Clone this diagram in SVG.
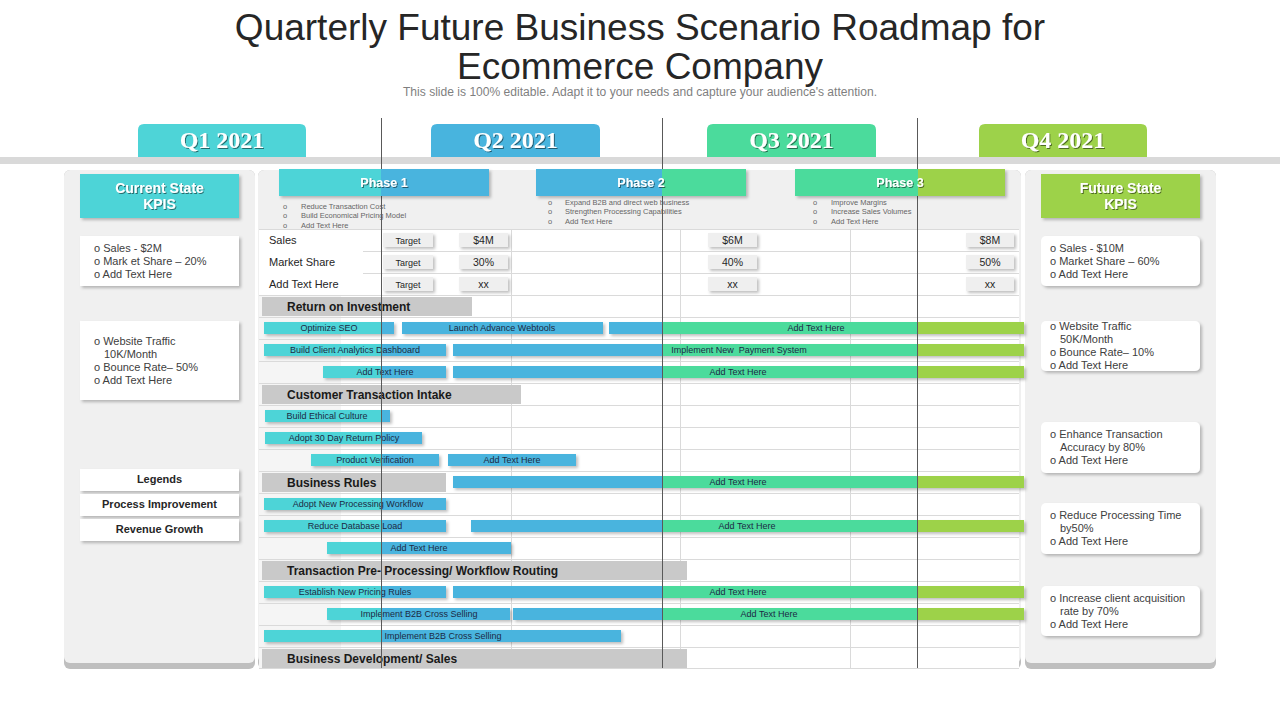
<svg xmlns="http://www.w3.org/2000/svg" width="1280" height="720" viewBox="0 0 1280 720">
<defs>
<style>
.s{font-family:"Liberation Sans",Arial,sans-serif}
.ttl{font-family:"Liberation Sans",Arial,sans-serif;font-size:37px;fill:#262626;text-anchor:middle}
.sub{font-family:"Liberation Sans",Arial,sans-serif;font-size:12px;fill:#7F7F7F;text-anchor:middle}
.q{font-family:"Liberation Serif","Times New Roman",serif;font-size:24px;font-weight:bold;fill:#fff;text-anchor:middle}
.ph{font-family:"Liberation Sans",Arial,sans-serif;font-size:12.5px;font-weight:bold;fill:#fff;text-anchor:middle}
.kh{font-family:"Liberation Sans",Arial,sans-serif;font-size:14px;font-weight:bold;fill:#fff;text-anchor:middle}
.pb{font-family:"Liberation Sans",Arial,sans-serif;font-size:7.5px;fill:#666}
.kp{font-family:"Liberation Sans",Arial,sans-serif;font-size:11px;fill:#404040}
.lg{font-family:"Liberation Sans",Arial,sans-serif;font-size:11px;font-weight:bold;fill:#262626;text-anchor:middle}
.rl{font-family:"Liberation Sans",Arial,sans-serif;font-size:11px;fill:#262626}
.tgt{font-family:"Liberation Sans",Arial,sans-serif;font-size:9px;fill:#262626;text-anchor:middle}
.val{font-family:"Liberation Sans",Arial,sans-serif;font-size:10.5px;fill:#262626;text-anchor:middle}
.bt{font-family:"Liberation Sans",Arial,sans-serif;font-size:9px;fill:#1C2A44;text-anchor:middle}
.hd{font-family:"Liberation Sans",Arial,sans-serif;font-size:12px;font-weight:bold;fill:#1A1A1A}
.tc{fill:#4ED4D7}
.bl{fill:#48B4DE}
.gr{fill:#4BDB9C}
.lm{fill:#9DD24A}
.hdr{fill:#C9C9C9}
.box{fill:#fff}
.tg{fill:#EFEFEF}
.grid{stroke:#DADADA;stroke-width:1}
.ql{stroke:#595959;stroke-width:1}
.pnl{fill:#F0F0F0}
.pnb{fill:#BFBFBF}
</style>
<filter id="sh" x="-10%" y="-30%" width="125%" height="180%"><feDropShadow dx="2" dy="2" stdDeviation="1.5" flood-color="#000" flood-opacity="0.25"/></filter>
<filter id="ts" x="-10%" y="-30%" width="130%" height="170%"><feDropShadow dx="1" dy="1" stdDeviation="0.6" flood-color="#000" flood-opacity="0.5"/></filter>
</defs>
<rect width="1280" height="720" fill="#fff"/>

<g id="title">
<text class="ttl" x="640" y="40">Quarterly Future Business Scenario Roadmap for</text>
<text class="ttl" x="640" y="79">Ecommerce Company</text>
<text class="sub" x="640" y="96" textLength="474" lengthAdjust="spacingAndGlyphs">This slide is 100% editable. Adapt it to your needs and capture your audience's attention.</text>
</g>

<rect x="0" y="157" width="1280" height="7" fill="#D9D9D9"/>

<g id="q1"><path class="tc" d="M138,157V130Q138,124 144,124H300Q306,124 306,130V157Z"/><text class="q" x="222" y="148" filter="url(#ts)">Q1 2021</text></g>
<g id="q2"><path class="bl" d="M431,157V130Q431,124 437,124H594Q600,124 600,130V157Z"/><text class="q" x="515.5" y="148" filter="url(#ts)">Q2 2021</text></g>
<g id="q3"><path class="gr" d="M707,157V130Q707,124 713,124H870Q876,124 876,130V157Z"/><text class="q" x="791.5" y="148" filter="url(#ts)">Q3 2021</text></g>
<g id="q4"><path class="lm" d="M979,157V130Q979,124 985,124H1141Q1147,124 1147,130V157Z"/><text class="q" x="1063" y="148" filter="url(#ts)">Q4 2021</text></g>

<g id="panels">
<rect class="pnb" x="64" y="170" width="191" height="499" rx="6"/>
<rect class="pnl" x="64" y="170" width="191" height="493" rx="6"/>
<rect class="pnb" x="258" y="170" width="763" height="499" rx="6"/>
<rect class="pnl" x="258" y="170" width="763" height="493" rx="6"/>
<rect class="pnb" x="1025" y="170" width="191" height="499" rx="6"/>
<rect class="pnl" x="1025" y="170" width="191" height="493" rx="6"/>
</g>

<g id="table">
<rect x="259" y="229" width="760" height="439" fill="#fff"/>
<rect x="259" y="295" width="82" height="373" fill="#F5F5F5"/>
<g class="grid">
<line x1="259" y1="229.5" x2="1019" y2="229.5"/>
<line x1="363" y1="251.5" x2="1019" y2="251.5"/>
<line x1="363" y1="273.5" x2="1019" y2="273.5"/>
<line x1="259" y1="295.5" x2="1019" y2="295.5"/>
<line x1="259" y1="317.5" x2="1019" y2="317.5"/>
<line x1="259" y1="339.5" x2="1019" y2="339.5"/>
<line x1="259" y1="361.5" x2="1019" y2="361.5"/>
<line x1="259" y1="383.5" x2="1019" y2="383.5"/>
<line x1="259" y1="405.5" x2="1019" y2="405.5"/>
<line x1="259" y1="427.5" x2="1019" y2="427.5"/>
<line x1="259" y1="449.5" x2="1019" y2="449.5"/>
<line x1="259" y1="471.5" x2="1019" y2="471.5"/>
<line x1="259" y1="493.5" x2="1019" y2="493.5"/>
<line x1="259" y1="515.5" x2="1019" y2="515.5"/>
<line x1="259" y1="537.5" x2="1019" y2="537.5"/>
<line x1="259" y1="559.5" x2="1019" y2="559.5"/>
<line x1="259" y1="581.5" x2="1019" y2="581.5"/>
<line x1="259" y1="603.5" x2="1019" y2="603.5"/>
<line x1="259" y1="625.5" x2="1019" y2="625.5"/>
<line x1="259" y1="647.5" x2="1019" y2="647.5"/>
<line x1="259" y1="668.5" x2="1019" y2="668.5"/>
<line x1="511.5" y1="229" x2="511.5" y2="668"/>
<line x1="680.5" y1="229" x2="680.5" y2="668"/>
<line x1="850.5" y1="229" x2="850.5" y2="668"/>
</g>
<text class="rl" x="269" y="244">Sales</text>
<text class="rl" x="269" y="266">Market Share</text>
<text class="rl" x="269" y="288">Add Text Here</text>
<g filter="url(#sh)">
<rect class="tg" x="383" y="233" width="50" height="14"/>
<rect class="tg" x="383" y="255" width="50" height="14"/>
<rect class="tg" x="383" y="277" width="50" height="14"/>
<rect class="tg" x="459" y="233" width="49" height="14"/>
<rect class="tg" x="459" y="255" width="49" height="14"/>
<rect class="tg" x="459" y="277" width="49" height="14"/>
<rect class="tg" x="708" y="233" width="49" height="14"/>
<rect class="tg" x="708" y="255" width="49" height="14"/>
<rect class="tg" x="708" y="277" width="49" height="14"/>
<rect class="tg" x="966" y="233" width="48" height="14"/>
<rect class="tg" x="966" y="255" width="48" height="14"/>
<rect class="tg" x="966" y="277" width="48" height="14"/>
</g>
<text class="tgt" x="408" y="243.5">Target</text>
<text class="tgt" x="408" y="265.5">Target</text>
<text class="tgt" x="408" y="287.5">Target</text>
<text class="val" x="483.5" y="244">$4M</text>
<text class="val" x="483.5" y="266">30%</text>
<text class="val" x="483.5" y="288">xx</text>
<text class="val" x="732.5" y="244">$6M</text>
<text class="val" x="732.5" y="266">40%</text>
<text class="val" x="732.5" y="288">xx</text>
<text class="val" x="990" y="244">$8M</text>
<text class="val" x="990" y="266">50%</text>
<text class="val" x="990" y="288">xx</text>
</g>

<g id="headers">
<rect class="hdr" x="262" y="297" width="210" height="19"/>
<text class="hd" x="287" y="311">Return on Investment</text>
<rect class="hdr" x="262" y="385" width="259" height="19"/>
<text class="hd" x="287" y="399">Customer Transaction Intake</text>
<rect class="hdr" x="262" y="473" width="184" height="19"/>
<text class="hd" x="287" y="487">Business Rules</text>
<rect class="hdr" x="262" y="561" width="425" height="19"/>
<text class="hd" x="287" y="575">Transaction Pre- Processing/ Workflow Routing</text>
<rect class="hdr" x="262" y="649" width="425" height="19"/>
<text class="hd" x="287" y="663">Business Development/ Sales</text>
</g>

<g id="bars">
<g filter="url(#sh)">
<rect class="tc" x="264" y="322" width="117" height="12"/><rect class="bl" x="381" y="322" width="13" height="12"/>
<rect class="bl" x="402" y="322" width="201" height="12"/>
<rect class="bl" x="609" y="322" width="53" height="12"/><rect class="gr" x="662" y="322" width="255" height="12"/><rect class="lm" x="917" y="322" width="107" height="12"/>

<rect class="tc" x="264" y="344" width="117" height="12"/><rect class="bl" x="381" y="344" width="65" height="12"/>
<rect class="bl" x="453" y="344" width="209" height="12"/><rect class="gr" x="662" y="344" width="255" height="12"/><rect class="lm" x="917" y="344" width="107" height="12"/>

<rect class="tc" x="323" y="366" width="58" height="12"/><rect class="bl" x="381" y="366" width="65" height="12"/>
<rect class="bl" x="453" y="366" width="209" height="12"/><rect class="gr" x="662" y="366" width="255" height="12"/><rect class="lm" x="917" y="366" width="107" height="12"/>

<rect class="tc" x="265" y="410" width="116" height="12"/><rect class="bl" x="381" y="410" width="9" height="12"/>
<rect class="tc" x="265" y="432" width="116" height="12"/><rect class="bl" x="381" y="432" width="41" height="12"/>
<rect class="tc" x="311" y="454" width="70" height="12"/><rect class="bl" x="381" y="454" width="58" height="12"/>
<rect class="bl" x="448" y="454" width="128" height="12"/>

<rect class="bl" x="453" y="476" width="209" height="12"/><rect class="gr" x="662" y="476" width="255" height="12"/><rect class="lm" x="917" y="476" width="107" height="12"/>

<rect class="tc" x="264" y="498" width="117" height="12"/><rect class="bl" x="381" y="498" width="65" height="12"/>

<rect class="tc" x="264" y="520" width="117" height="12"/><rect class="bl" x="381" y="520" width="65" height="12"/>
<rect class="bl" x="471" y="520" width="191" height="12"/><rect class="gr" x="662" y="520" width="255" height="12"/><rect class="lm" x="917" y="520" width="107" height="12"/>

<rect class="tc" x="327" y="542" width="54" height="12"/><rect class="bl" x="381" y="542" width="130" height="12"/>

<rect class="tc" x="264" y="586" width="117" height="12"/><rect class="bl" x="381" y="586" width="65" height="12"/>
<rect class="bl" x="453" y="586" width="209" height="12"/><rect class="gr" x="662" y="586" width="255" height="12"/><rect class="lm" x="917" y="586" width="107" height="12"/>

<rect class="tc" x="327" y="608" width="54" height="12"/><rect class="bl" x="381" y="608" width="129" height="12"/>
<rect class="bl" x="513" y="608" width="149" height="12"/><rect class="gr" x="662" y="608" width="255" height="12"/><rect class="lm" x="917" y="608" width="107" height="12"/>

<rect class="tc" x="264" y="630" width="117" height="12"/><rect class="bl" x="381" y="630" width="240" height="12"/>
</g>
<text class="bt" x="329" y="331">Optimize SEO</text>
<text class="bt" x="502" y="331">Launch Advance Webtools</text>
<text class="bt" x="816" y="331">Add Text Here</text>
<text class="bt" x="355" y="353">Build Client Analytics Dashboard</text>
<text class="bt" x="739" y="353" xml:space="preserve">Implement New  Payment System</text>
<text class="bt" x="385" y="375">Add Text Here</text>
<text class="bt" x="738" y="375">Add Text Here</text>
<text class="bt" x="327" y="419">Build Ethical Culture</text>
<text class="bt" x="344" y="441">Adopt 30 Day Return Policy</text>
<text class="bt" x="375" y="463">Product Verification</text>
<text class="bt" x="512" y="463">Add Text Here</text>
<text class="bt" x="738" y="485">Add Text Here</text>
<text class="bt" x="358" y="507">Adopt New Processing Workflow</text>
<text class="bt" x="355" y="529">Reduce Database Load</text>
<text class="bt" x="747" y="529">Add Text Here</text>
<text class="bt" x="419" y="551">Add Text Here</text>
<text class="bt" x="355" y="595">Establish New Pricing Rules</text>
<text class="bt" x="738" y="595">Add Text Here</text>
<text class="bt" x="419" y="617">Implement B2B Cross Selling</text>
<text class="bt" x="769" y="617">Add Text Here</text>
<text class="bt" x="443" y="639">Implement B2B Cross Selling</text>
</g>

<g id="phase-notes">
<text class="pb" x="283" y="208.5">o</text><text class="pb" x="301" y="208.5">Reduce Transaction Cost</text>
<text class="pb" x="283" y="218">o</text><text class="pb" x="301" y="218">Build Economical Pricing Model</text>
<text class="pb" x="283" y="227.5">o</text><text class="pb" x="301" y="227.5">Add Text Here</text>
<text class="pb" x="548" y="204.5">o</text><text class="pb" x="565" y="204.5">Expand B2B and direct web business</text>
<text class="pb" x="548" y="214">o</text><text class="pb" x="565" y="214">Strengthen Processing Capabilities</text>
<text class="pb" x="548" y="223.5">o</text><text class="pb" x="565" y="223.5">Add Text Here</text>
<text class="pb" x="813" y="204.5">o</text><text class="pb" x="831" y="204.5">Improve Margins</text>
<text class="pb" x="813" y="214">o</text><text class="pb" x="831" y="214">Increase Sales Volumes</text>
<text class="pb" x="813" y="223.5">o</text><text class="pb" x="831" y="223.5">Add Text Here</text>
</g>

<g id="quarter-lines" class="ql">
<line x1="381.5" y1="118" x2="381.5" y2="668"/>
<line x1="662.5" y1="118" x2="662.5" y2="668"/>
<line x1="917.5" y1="118" x2="917.5" y2="668"/>
</g>

<g id="phase1"><g filter="url(#sh)"><rect class="tc" x="279" y="169" width="102" height="27"/><rect class="bl" x="381" y="169" width="108" height="27"/></g><text class="ph" x="384" y="187" filter="url(#ts)">Phase 1</text></g>
<g id="phase2"><g filter="url(#sh)"><rect class="bl" x="536" y="169" width="126" height="27"/><rect class="gr" x="662" y="169" width="84" height="27"/></g><text class="ph" x="641" y="187" filter="url(#ts)">Phase 2</text></g>
<g id="phase3"><g filter="url(#sh)"><rect class="gr" x="795" y="169" width="123" height="27"/><rect class="lm" x="918" y="169" width="87" height="27"/></g><text class="ph" x="900" y="187" filter="url(#ts)">Phase 3</text></g>

<g id="current-kpis">
<rect class="tc" x="80" y="174" width="159" height="44" filter="url(#sh)"/>
<text class="kh" x="159.5" y="193" filter="url(#ts)">Current State</text>
<text class="kh" x="159.5" y="209" filter="url(#ts)">KPIS</text>
</g>
<g id="current-box1">
<rect class="box" x="80" y="236" width="159" height="50" filter="url(#sh)"/>
<text class="kp" x="94" y="252">o Sales - $2M</text>
<text class="kp" x="94" y="265">o Mark et Share – 20%</text>
<text class="kp" x="94" y="278">o Add Text Here</text>
</g>
<g id="current-box2">
<rect class="box" x="80" y="321" width="159" height="79" filter="url(#sh)"/>
<text class="kp" x="94" y="345">o Website Traffic</text>
<text class="kp" x="104" y="358">10K/Month</text>
<text class="kp" x="94" y="371">o Bounce Rate– 50%</text>
<text class="kp" x="94" y="384">o Add Text Here</text>
</g>
<g id="legends">
<rect class="box" x="80" y="469" width="159" height="22" filter="url(#sh)"/>
<text class="lg" x="159.5" y="483">Legends</text>
</g>
<g id="legend-process">
<rect class="box" x="80" y="494" width="159" height="22" filter="url(#sh)"/>
<text class="lg" x="159.5" y="508">Process Improvement</text>
</g>
<g id="legend-revenue">
<rect class="box" x="80" y="519" width="159" height="22" filter="url(#sh)"/>
<text class="lg" x="159.5" y="533">Revenue Growth</text>
</g>

<g id="future-kpis">
<rect class="lm" x="1041" y="174" width="159" height="44" filter="url(#sh)"/>
<text class="kh" x="1120.5" y="193" filter="url(#ts)">Future State</text>
<text class="kh" x="1120.5" y="209" filter="url(#ts)">KPIS</text>
</g>
<g id="future-box1">
<rect class="box" x="1041" y="236" width="159" height="50" rx="5" filter="url(#sh)"/>
<text class="kp" x="1050" y="252">o Sales - $10M</text>
<text class="kp" x="1050" y="265">o Market Share – 60%</text>
<text class="kp" x="1050" y="278">o Add Text Here</text>
</g>
<g id="future-box2">
<rect class="box" x="1041" y="321" width="159" height="50" rx="5" filter="url(#sh)"/>
<text class="kp" x="1050" y="330">o Website Traffic</text>
<text class="kp" x="1060" y="343">50K/Month</text>
<text class="kp" x="1050" y="356">o Bounce Rate– 10%</text>
<text class="kp" x="1050" y="369">o Add Text Here</text>
</g>
<g id="future-box3">
<rect class="box" x="1041" y="422" width="159" height="51" rx="5" filter="url(#sh)"/>
<text class="kp" x="1050" y="438">o Enhance Transaction</text>
<text class="kp" x="1060" y="451">Accuracy by 80%</text>
<text class="kp" x="1050" y="464">o Add Text Here</text>
</g>
<g id="future-box4">
<rect class="box" x="1041" y="503" width="159" height="51" rx="5" filter="url(#sh)"/>
<text class="kp" x="1050" y="519">o Reduce Processing Time</text>
<text class="kp" x="1060" y="532">by50%</text>
<text class="kp" x="1050" y="545">o Add Text Here</text>
</g>
<g id="future-box5">
<rect class="box" x="1041" y="586" width="159" height="50" rx="5" filter="url(#sh)"/>
<text class="kp" x="1050" y="602">o Increase client acquisition</text>
<text class="kp" x="1060" y="615">rate by 70%</text>
<text class="kp" x="1050" y="628">o Add Text Here</text>
</g>
</svg>
